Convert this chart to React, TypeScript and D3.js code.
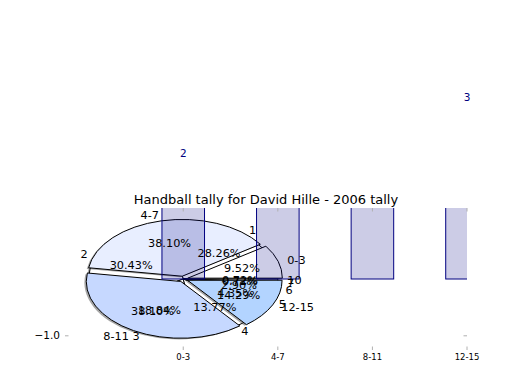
import React from 'react';
import * as d3 from 'd3';

const ageGroups = ["0-3", "4-7", "8-11", "12-15"];
const ageCounts = [2, 8, 8, 3];
const ageColors = ["#ffffff", "#e8eeff", "#c6d8ff", "#b3d4ff"];
const tallyLabels = ["1", "2", "3", "4", "5", "6", "7", "10"];
const tallyCounts = [39, 42, 26, 19, 6, 4, 1, 1];
const yTicks = [-1.0];
const title = "Handball tally for David Hille - 2006 tally";

type Wedge = { label: string; value: number; pct: number; t0: number; t1: number; mid: number };

function wedges(labels: string[], values: number[]): Wedge[] {
  const total = d3.sum(values);
  let acc = 0;
  return values.map((v, i) => {
    const t0 = (acc / total) * 2 * Math.PI;
    acc += v;
    const t1 = (acc / total) * 2 * Math.PI;
    return { label: labels[i], value: v, pct: (v / total) * 100, t0, t1, mid: (t0 + t1) / 2 };
  });
}

export default function App() {
  const W = 520, H = 390;
  const x = d3.scaleLinear().domain([-1.25, 3]).range([65, 467]);
  const y = d3.scaleLinear().domain([-1.25, 1.25]).range([350, 208]);
  const kx = x(1) - x(0);
  const ky = y(0) - y(1);
  const arc = d3.arc<any>().innerRadius(0).outerRadius(1);
  const wedgePath = (w: Wedge) =>
    arc({ startAngle: Math.PI / 2 - w.t1, endAngle: Math.PI / 2 - w.t0 }) as string;

  const pieA = wedges(ageGroups, ageCounts);
  const pieB = wedges(tallyLabels, tallyCounts);
  const explode = 0.05;
  const font = "DejaVu Sans, sans-serif";
  const pieFs = 11.3;
  const barW = 0.45;
  const tickC = "#b0b0b0";

  return (
    <svg width={W} height={H} style={{ position: 'absolute', left: 0, top: 0, background: '#fff' }}
      xmlns="http://www.w3.org/2000/svg">
      <defs>
        <clipPath id="axclip">
          <rect x={x(-1.25)} y={y(1.25)} width={x(3) - x(-1.25)} height={y(-1.25) - y(1.25)} />
        </clipPath>
      </defs>
      {/* pie B underneath */}
      <g transform={`translate(${x(0)},${y(0)}) scale(${kx},${ky})`}>
        {pieB.map((w, i) => (
          <path key={'bs' + i} d={wedgePath(w)} transform={`translate(-0.02,0.02)`}
            fill="#4d4d4d" fillOpacity={0.5} />
        ))}
        {pieB.map((w, i) => (
          <path key={'b' + i} d={wedgePath(w)} fill="#ffffff" stroke="#000" strokeWidth={1}
            vectorEffect="non-scaling-stroke" />
        ))}
      </g>
      {/* pie A with explode and shadow */}
      {pieA.map((w, i) => {
        const cx = explode * Math.cos(w.mid);
        const cy = explode * Math.sin(w.mid);
        return (
          <g key={'as' + i} transform={`translate(${x(cx - 0.02)},${y(cy - 0.02)}) scale(${kx},${ky})`}>
            <path d={wedgePath(w)} fill="#4d4d4d" fillOpacity={0.5} />
          </g>
        );
      })}
      {pieA.map((w, i) => {
        const cx = explode * Math.cos(w.mid);
        const cy = explode * Math.sin(w.mid);
        return (
          <g key={'a' + i} transform={`translate(${x(cx)},${y(cy)}) scale(${kx},${ky})`}>
            <path d={wedgePath(w)} fill={ageColors[i]} stroke="#000" strokeWidth={1}
              vectorEffect="non-scaling-stroke" />
          </g>
        );
      })}
      {/* bars */}
      <g clipPath="url(#axclip)">
        {ageCounts.map((v, i) => (
          <rect key={'bar' + i} x={x(i - barW / 2)} y={y(v)} width={x(barW) - x(0)} height={y(0) - y(v)}
            fill="#000080" fillOpacity={0.2} stroke="#000080" strokeWidth={1} />
        ))}
      </g>
      {/* pie B texts */}
      {pieB.map((w, i) => {
        const lx = 1.1 * Math.cos(w.mid), ly = 1.1 * Math.sin(w.mid);
        const px = 0.6 * Math.cos(w.mid), py = 0.6 * Math.sin(w.mid);
        return (
          <g key={'bt' + i} fontFamily={font} fontSize={pieFs} fill="#000">
            <text x={x(lx)} y={y(ly)} dy="0.35em" textAnchor={lx > 0 ? 'start' : 'end'}>{w.label}</text>
            <text x={x(px)} y={y(py)} dy="0.35em" textAnchor="middle">{w.pct.toFixed(2) + '%'}</text>
          </g>
        );
      })}
      {/* pie A texts */}
      {pieA.map((w, i) => {
        const cx = explode * Math.cos(w.mid), cy = explode * Math.sin(w.mid);
        const lx = cx + 1.1 * Math.cos(w.mid), ly = cy + 1.1 * Math.sin(w.mid);
        const px = cx + 0.6 * Math.cos(w.mid), py = cy + 0.6 * Math.sin(w.mid);
        return (
          <g key={'at' + i} fontFamily={font} fontSize={pieFs} fill="#000">
            <text x={x(lx)} y={y(ly)} dy="0.35em" textAnchor={lx > 0 ? 'start' : 'end'}>{w.label}</text>
            <text x={x(px)} y={y(py)} dy="0.35em" textAnchor="middle">{w.pct.toFixed(2) + '%'}</text>
          </g>
        );
      })}
      {/* bar value labels (those above the page top fall outside the picture, as in the source) */}
      {ageCounts.map((v, i) => (y(v) - 8 > 10 ? (
        <text key={'bl' + i} x={x(i)} y={y(v) - 8} textAnchor="middle" fontFamily={font} fontSize={10.5}
          fill="#000080">{v}</text>
      ) : null))}
      {/* ticks */}
      {ageGroups.map((g, i) => (
        <g key={'xt' + i}>
          <line x1={x(i)} x2={x(i)} y1={y(-1.25)} y2={y(-1.25) - 3.5} stroke={tickC} strokeWidth={1} />
          <line x1={x(i)} x2={x(i)} y1={y(1.25)} y2={y(1.25) + 3.5} stroke={tickC} strokeWidth={1} />
          <text x={x(i)} y={y(-1.25) + 10} textAnchor="middle" fontFamily={font} fontSize={8.5} fill="#000">{g}</text>
        </g>
      ))}
      {yTicks.map((t, i) => (
        <g key={'yt' + i}>
          <line x1={x(-1.25)} x2={x(-1.25) + 3.5} y1={y(t)} y2={y(t)} stroke={tickC} strokeWidth={1} />
          <line x1={x(3)} x2={x(3) - 3.5} y1={y(t)} y2={y(t)} stroke={tickC} strokeWidth={1} />
          <text x={x(-1.25) - 5} y={y(t)} dy="0.35em" textAnchor="end" fontFamily={font} fontSize={10.5} fill="#000">
            {'\u2212' + t.toFixed(1).replace('-', '')}
          </text>
        </g>
      ))}
      <text x={(x(-1.25) + x(3)) / 2} y={204} textAnchor="middle" fontFamily={font} fontSize={13} fill="#000">{title}</text>
    </svg>
  );
}
